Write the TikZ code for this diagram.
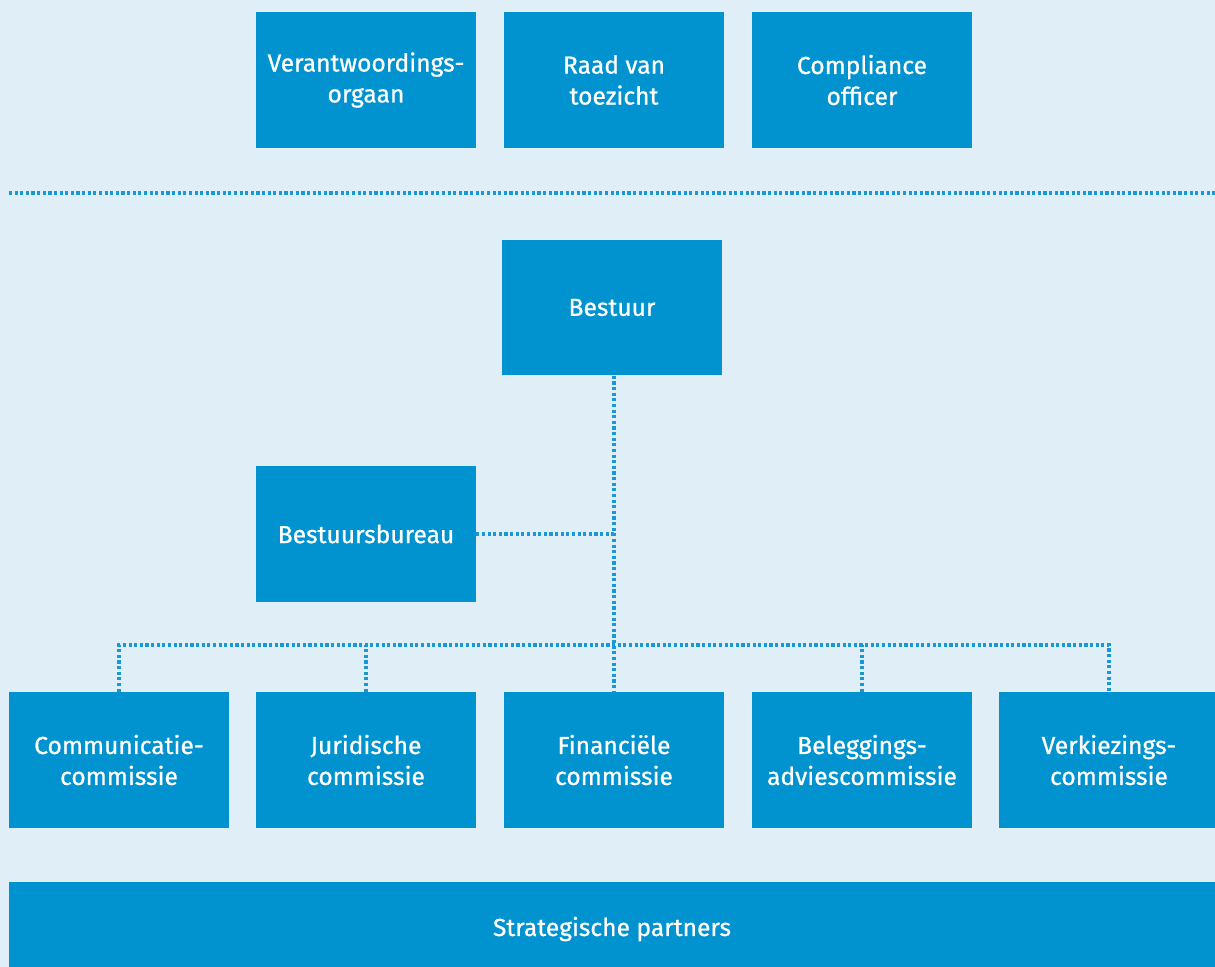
\documentclass[tikz,border=0pt]{standalone}
\usepackage{fontspec}
\setmainfont{Fira Sans}[FakeBold=0.8]
\definecolor{boxblue}{HTML}{0093CF}
\definecolor{dotblue}{HTML}{1898D4}
\definecolor{bgblue}{HTML}{DFEEF7}
\tikzset{
	orgbox/.style={fill=boxblue, text=white, inner sep=0pt, align=center,
		minimum width=4.4cm, minimum height=2.72cm,
		font=\fontsize{14pt}{17.6pt}\selectfont},
	dotline/.style={dotblue, line width=1.8pt, dash pattern=on 1.8pt off 1.4pt}
}

\begin{document}
\begin{tikzpicture}[x=0.02cm, y=-0.02cm]
	%background
		\fill[bgblue] (0,0) rectangle (1215,967);
		\useasboundingbox (0,0) rectangle (1215,967);
		\clip (0,0) rectangle (1215,967);
	%supervision
		\node[orgbox] (vo) at (366,80) {Verantwoordings-\\orgaan};
		\node[orgbox] (rvt) at (614,80) {Raad van\\toezicht};
		\node[orgbox] (co) at (862,80) {Compliance\\officer};
	% separator
		\draw[dotline] (9,193) -- (1215,193);
	%board
		\node[orgbox] (bestuur) at (612,307.5) {Bestuur};
		\node[orgbox] (bureau) at (366,534) {Bestuursbureau};
	%committees
		\node[orgbox] (comm) at (119,760) {Communicatie-\\commissie};
		\node[orgbox] (jur) at (366,760) {Juridische\\commissie};
		\node[orgbox] (fin) at (614,760) {Financi\"ele\\commissie};
		\node[orgbox] (bel) at (862,760) {Beleggings-\\adviescommissie};
		\node[orgbox] (verk) at (1109,760) {Verkiezings-\\commissie};
	%partners
		\node[orgbox, minimum width=24.12cm, minimum height=1.88cm] (partners)
			at (612,929) {Strategische partners};
	%connectors
		\coordinate (split) at (fin.north |- 0,645);
		\coordinate (side) at (fin.north |- bureau.east);
		\draw[dotline] (bestuur.south -| fin.north) -- (fin.north);
		\draw[dotline] (bureau.east) -- (side);
		\draw[dotline] (comm.north) |- (split) -| (verk.north);
		\draw[dotline] (jur.north) -- (jur.north |- split);
		\draw[dotline] (bel.north) -- (bel.north |- split);
\end{tikzpicture}
\end{document}
